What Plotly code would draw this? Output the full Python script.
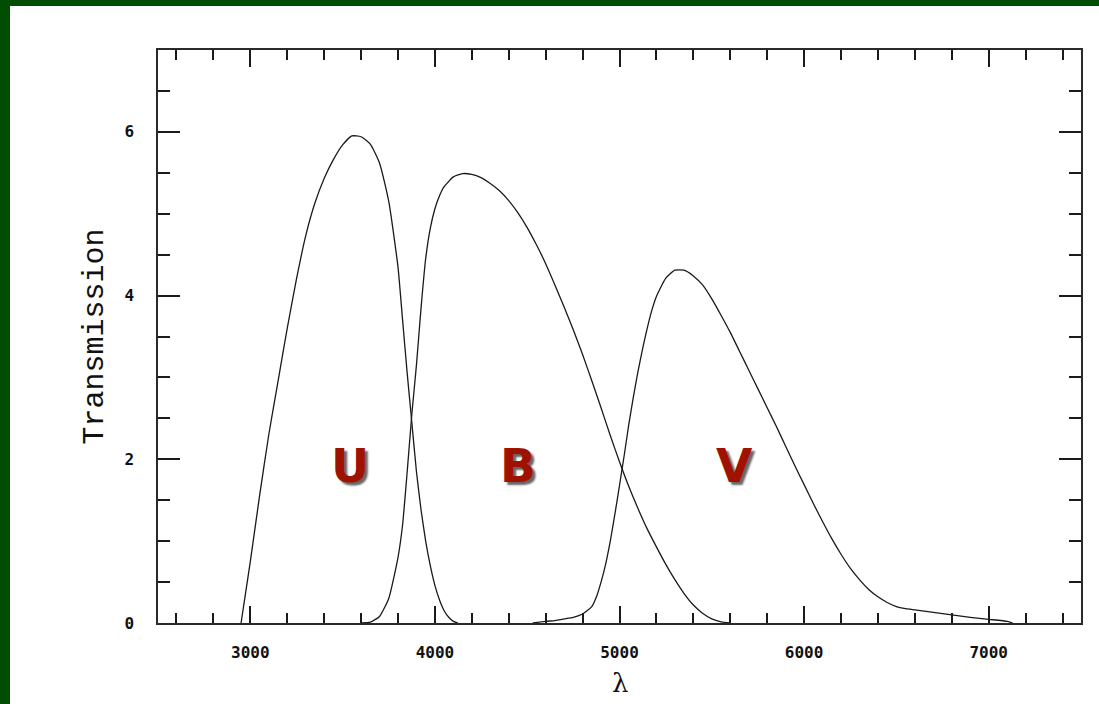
import plotly.graph_objects as go

# Filter transmission curves (wavelength in Angstrom)
u_wl = [2950, 3000, 3050, 3100, 3150, 3200, 3250, 3300, 3350, 3400, 3450, 3500,
        3550, 3600, 3650, 3700, 3750, 3800, 3825, 3850, 3875, 3900, 3925, 3950,
        3975, 4000, 4025, 4050, 4075, 4100, 4125]
u_tr = [0.00, 0.75, 1.55, 2.30, 2.95, 3.60, 4.20, 4.73, 5.13, 5.43, 5.66, 5.84,
        5.95, 5.94, 5.85, 5.62, 5.15, 4.35, 3.70, 3.05, 2.45, 1.85, 1.38, 1.00,
        0.70, 0.46, 0.28, 0.15, 0.07, 0.02, 0.00]

b_wl = [3600, 3650, 3700, 3750, 3800, 3825, 3850, 3875, 3900, 3925, 3950, 3975,
        4000, 4025, 4050, 4100, 4150, 4200, 4250, 4300, 4350, 4400, 4450, 4500,
        4550, 4600, 4650, 4700, 4750, 4800, 4850, 4900, 4950, 5000, 5050, 5100,
        5150, 5200, 5250, 5300, 5350, 5400, 5450, 5500, 5550, 5600]
b_tr = [0.00, 0.01, 0.08, 0.30, 0.80, 1.20, 1.85, 2.55, 3.15, 3.85, 4.45, 4.82,
        5.06, 5.22, 5.33, 5.45, 5.49, 5.48, 5.44, 5.37, 5.28, 5.16, 5.01, 4.83,
        4.62, 4.39, 4.13, 3.86, 3.58, 3.28, 2.96, 2.63, 2.29, 1.97, 1.67, 1.40,
        1.15, 0.93, 0.72, 0.53, 0.36, 0.22, 0.12, 0.05, 0.015, 0.00]

v_wl = [4530, 4600, 4650, 4700, 4750, 4800, 4850, 4875, 4900, 4925, 4950, 4975,
        5000, 5025, 5050, 5075, 5100, 5125, 5150, 5175, 5200, 5250, 5300, 5350,
        5400, 5450, 5500, 5550, 5600, 5650, 5700, 5750, 5800, 5850, 5900, 5950,
        6000, 6050, 6100, 6150, 6200, 6250, 6300, 6350, 6400, 6450, 6500, 6550,
        6600, 6700, 6800, 6900, 7000, 7100, 7130]
v_tr = [0.00, 0.02, 0.03, 0.05, 0.07, 0.11, 0.20, 0.32, 0.50, 0.72, 1.00, 1.33,
        1.68, 2.04, 2.42, 2.76, 3.07, 3.35, 3.60, 3.82, 3.99, 4.21, 4.31, 4.31,
        4.24, 4.13, 3.96, 3.76, 3.55, 3.32, 3.09, 2.86, 2.63, 2.40, 2.16, 1.92,
        1.69, 1.46, 1.24, 1.03, 0.84, 0.67, 0.53, 0.41, 0.32, 0.25, 0.20, 0.175,
        0.16, 0.13, 0.10, 0.07, 0.045, 0.02, 0.00]

band_names = ["U", "B", "V"]
band_label_x = [3540, 4450, 5625]
band_label_y = [1.93, 1.93, 1.93]

x_ticks = [3000, 4000, 5000, 6000, 7000]
y_ticks = [0, 2, 4, 6]

W, H = 1099, 704
ML, MR, MT, MB = 158, 18, 50, 81

fig = go.Figure()
for wl, tr in [(u_wl, u_tr), (b_wl, b_tr), (v_wl, v_tr)]:
    fig.add_trace(go.Scatter(x=wl, y=tr, mode="lines",
                             line=dict(color="#1a1a1a", width=1.3, shape="spline", smoothing=0.5),
                             showlegend=False, hoverinfo="skip"))

for name, lx, ly in zip(band_names, band_label_x, band_label_y):
    fig.add_annotation(x=lx, y=ly, text=f"<b>{name}</b>", showarrow=False,
                       xanchor="center", yanchor="middle",
                       font=dict(family="DejaVu Sans", size=47, color="#a01200",
                                 shadow="3px 3px 2px rgba(0,0,0,0.6)"))

pw = W - ML - MR
ph = H - MT - MB

# x-axis title under the tick labels
fig.add_annotation(text="λ", xref="paper", yref="paper", x=0.5, y=-(683 - (H - MB)) / ph,
                   xanchor="center", yanchor="middle", showarrow=False,
                   font=dict(family="DejaVu Serif", size=26, color="#111"))

# white page with a dark green frame on the left and top
fig.add_shape(type="rect", xref="paper", yref="paper", layer="below",
              x0=(10 - ML) / pw, x1=1 + (MR + 5) / pw,
              y0=-(MB + 5) / ph, y1=1 + (MT - 6) / ph,
              fillcolor="white", line=dict(width=0))

axis_common = dict(showgrid=False, zeroline=False, showline=True, linecolor="#2a2a2a",
                   linewidth=1.5, mirror="ticks", ticks="inside", tickcolor="#1a1a1a",
                   tickwidth=1.5,
                   tickfont=dict(family="DejaVu Sans Mono", size=16, color="#111",
                                 weight="bold"))

fig.update_xaxes(range=[2500, 7500], tickvals=x_ticks, ticklen=17,
                 minor=dict(dtick=200, ticklen=10, tickcolor="#1a1a1a", tickwidth=1.5,
                            ticks="inside", showgrid=False),
                 ticklabelstandoff=14,
                 **axis_common)
fig.update_yaxes(range=[0, 7], tickvals=y_ticks, ticklen=22,
                 minor=dict(dtick=0.5, ticklen=12, tickcolor="#1a1a1a", tickwidth=1.5,
                            ticks="inside", showgrid=False),
                 title=dict(text="Transmission",
                            font=dict(family="Liberation Mono", size=30, color="#111"),
                            standoff=12),
                 ticklabelstandoff=19,
                 **axis_common)

fig.update_layout(width=W, height=H, margin=dict(l=ML, r=MR, t=MT, b=MB),
                  paper_bgcolor="#014d01", plot_bgcolor="white")

fig.write_html("out.html")
